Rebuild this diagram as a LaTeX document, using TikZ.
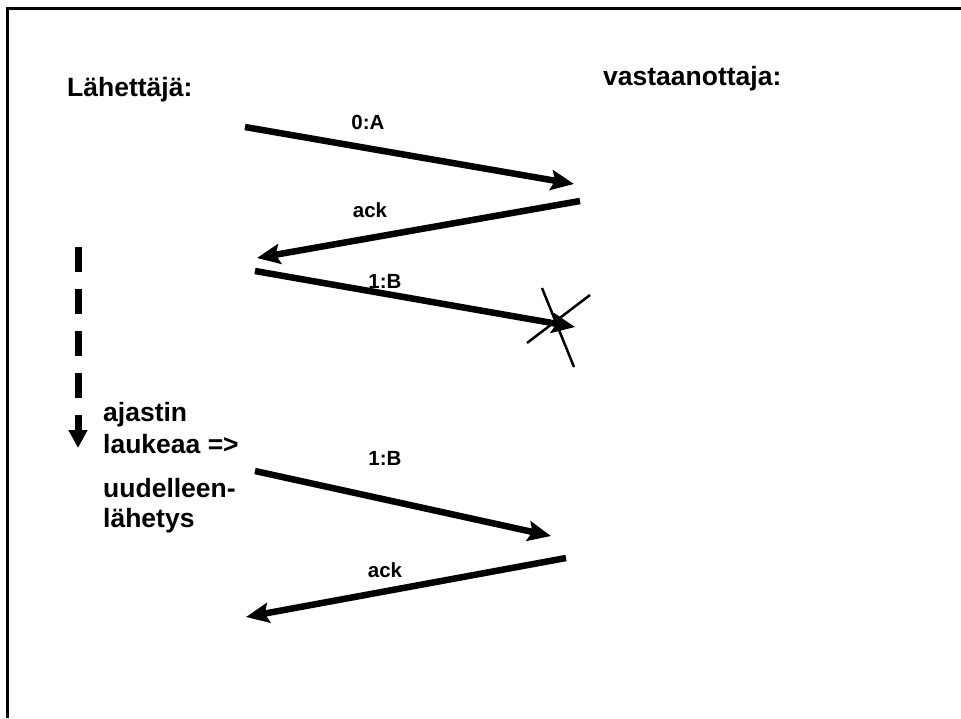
\documentclass[tikz,border=0pt]{standalone}
\usepackage{fontspec}
\setmainfont{Liberation Sans}
\usetikzlibrary{arrows.meta}
\begin{document}
\begin{tikzpicture}[x=1pt,y=-1pt,
  big/.style={font=\bfseries\fontsize{26.5}{30}\selectfont, inner sep=0pt, anchor=base west},
  lbl/.style={font=\bfseries\fontsize{20.5}{23}\selectfont, inner sep=0pt, anchor=base},
  msg/.style={line width=6.5pt, -{Stealth[length=23pt,width=20pt,inset=4pt]}},
  cross/.style={line width=2.5pt},
  frame/.style={line width=2.8pt}]
\useasboundingbox (0,0) rectangle (961,718);
% frame
\coordinate (fb) at (7.5,718);
\coordinate (fc) at (7.5,8.5);
\coordinate (fr) at (961,8.5);
\draw[frame] (fb) -- (fc) -- (fr);
% headings
\node[big] (snd) at (67,96) {Lähettäjä:};
\node[big] (rcv) at (603,85) {vastaanottaja:};
% endpoints
\coordinate (a1) at (245,127);
\coordinate (b1) at (574,184);
\coordinate (b2) at (580,201);
\coordinate (a2) at (257,258);
\coordinate (a3) at (255,271);
\coordinate (b3) at (575,327);
\coordinate (a4) at (255,471);
\coordinate (b4) at (551,536);
\coordinate (b5) at (566,558);
\coordinate (a5) at (246,617);
% messages
\draw[msg] (a1) -- (b1);
\draw[msg] (b2) -- (a2);
\draw[msg] (a3) -- (b3);
\draw[msg] (a4) -- (b4);
\draw[msg] (b5) -- (a5);
% labels
\node[lbl] (l1) at (368,129) {0:A};
\node[lbl] (l2) at (370,217) {ack};
\node[lbl] (l3) at (385,288) {1:B};
\node[lbl] (l4) at (385,465) {1:B};
\node[lbl] (l5) at (385,577) {ack};
% cross (lost packet)
\coordinate (c1) at (542,288);
\coordinate (c2) at (574,367);
\coordinate (c3) at (590,295);
\coordinate (c4) at (527,343);
\draw[cross] (c1) -- (c2);
\draw[cross] (c3) -- (c4);
% timer
\coordinate (t1) at (78,247);
\coordinate (t2) at (78,448);
\draw[line width=7pt, dash pattern=on 25pt off 17pt, -{Triangle[length=18pt,width=18pt]}] (t1) -- (t2);
% timer text
\node[big] (x1) at (103,421) {ajastin};
\node[big] (x2) at (103,453) {laukeaa =>};
\node[big] (x3) at (103,497) {uudelleen-};
\node[big] (x4) at (103,527) {lähetys};
\end{tikzpicture}
\end{document}
